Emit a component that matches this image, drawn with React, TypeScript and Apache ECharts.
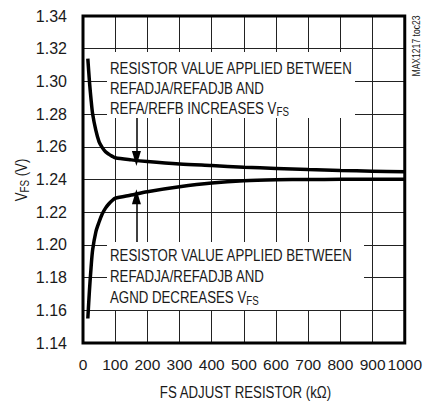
import React, { useEffect, useRef } from "react";
import * as echarts from "echarts";

const xTicks = [0, 100, 200, 300, 400, 500, 600, 700, 800, 900, 1000];
const yTicks = [1.14, 1.16, 1.18, 1.2, 1.22, 1.24, 1.26, 1.28, 1.3, 1.32, 1.34];

const resistorK = [15, 20, 25, 30, 40, 50, 60, 70, 80, 90, 100, 150, 200, 300, 400, 500, 600, 700, 800, 900, 1000];
const vfsIncrease = [1.314, 1.3, 1.289, 1.28, 1.27, 1.263, 1.2595, 1.257, 1.2555, 1.2543, 1.2533, 1.252, 1.251, 1.2495, 1.2485, 1.2475, 1.2468, 1.2461, 1.2455, 1.2451, 1.2447];
const vfsDecrease = [1.155, 1.172, 1.186, 1.197, 1.208, 1.214, 1.219, 1.2225, 1.225, 1.227, 1.2285, 1.2305, 1.2325, 1.2355, 1.2378, 1.2392, 1.2398, 1.24, 1.2401, 1.2401, 1.2401];

const upperText = ["RESISTOR VALUE APPLIED BETWEEN", "REFADJA/REFADJB AND", "REFA/REFB INCREASES "];
const lowerText = ["RESISTOR VALUE APPLIED BETWEEN", "REFADJA/REFADJB AND", "AGND DECREASES "];
const xName = "FS ADJUST RESISTOR (kΩ)";
const arrowUp = { k: 166, from: 1.2776, to: 1.2528 };
const arrowDown = { k: 166, from: 1.2018, to: 1.2295 };

const FONT = "'Liberation Sans', Arial, sans-serif";
const INK = "#1a1a1a";
const SQUEEZE = 0.78;

const rich = {
  m: { fontFamily: FONT, fontSize: 17, fill: INK, color: INK, lineHeight: 20, verticalAlign: "middle" },
  s: { fontFamily: FONT, fontSize: 12.5, fill: INK, color: INK, lineHeight: 12, verticalAlign: "bottom" },
};

function textLines(lines: string[], x: number, y0: number, dy: number) {
  return lines.map((t, i) => {
    const last = i === lines.length - 1;
    return {
      type: "text",
      x,
      y: y0 + i * dy,
      scaleX: SQUEEZE,
      z: 1,
      style: {
        text: last ? `{m|${t}V}{s|FS}` : `{m|${t}}`,
        fontFamily: FONT,
        fontSize: 17,
        fill: INK,
        verticalAlign: "middle",
        rich,
      },
    };
  });
}

export default function App() {
  const ref = useRef<HTMLDivElement>(null);
  useEffect(() => {
    if (!ref.current) return;
    const chart = echarts.init(ref.current, null, { renderer: "svg" });
    const upData = resistorK.map((k, i) => [k, vfsIncrease[i]]);
    const dnData = resistorK.map((k, i) => [k, vfsDecrease[i]]);
    chart.setOption({
      animation: false,
      backgroundColor: "#fff",
      grid: { left: 83, right: 17, top: 16, bottom: 59, show: true, borderColor: "#000", borderWidth: 3, backgroundColor: "transparent", z: 3 },
      xAxis: {
        type: "value",
        min: xTicks[0],
        max: xTicks[xTicks.length - 1],
        interval: 100,
        axisLine: { show: false },
        axisTick: { show: false },
        splitLine: { show: true, lineStyle: { color: "#222", width: 1 } },
        axisLabel: {
          fontFamily: FONT,
          fontSize: 15.5,
          color: INK,
          margin: 13,
          showMaxLabel: true,
          showMinLabel: true,
          hideOverlap: false,
          interval: 0,
          formatter: (v: number) => String(v),
        },
      },
      yAxis: {
        type: "value",
        min: yTicks[0],
        max: yTicks[yTicks.length - 1],
        interval: 0.02,
        axisLine: { show: false },
        axisTick: { show: false },
        splitLine: { show: true, lineStyle: { color: "#222", width: 1 } },
        axisLabel: { fontFamily: FONT, fontSize: 16, color: INK, margin: 16, showMaxLabel: true, showMinLabel: true, formatter: (v: number) => v.toFixed(2) },
      },
      graphic: [
        { type: "rect", z: 1, shape: { x: 107, y: 52, width: 248, height: 66 }, style: { fill: "#fff" } },
        { type: "rect", z: 1, shape: { x: 107, y: 242, width: 257, height: 68 }, style: { fill: "#fff" } },
        ...textLines(upperText, 110, 68, 20),
        ...textLines(lowerText, 110, 255, 21),
        {
          type: "text",
          x: 245.5,
          y: 392,
          scaleX: SQUEEZE,
          style: { text: xName, fontFamily: FONT, fontSize: 17, fill: INK, align: "center", verticalAlign: "middle" },
        },
        {
          type: "text",
          x: 21,
          y: 180,
          rotation: Math.PI / 2,
          scaleX: SQUEEZE,
          style: { text: "{m|V}{s|FS}{m| (V)}", fontFamily: FONT, fontSize: 17, fill: INK, align: "center", verticalAlign: "middle", rich },
        },
        {
          type: "text",
          x: 416,
          y: 46,
          rotation: Math.PI / 2,
          scaleX: SQUEEZE,
          style: { text: "MAX1217 toc23", fontFamily: FONT, fontSize: 11, fill: INK, align: "center", verticalAlign: "middle" },
        },
      ],
      series: [
        {
          type: "line",
          data: upData,
          showSymbol: false,
          smooth: 0.3,
          lineStyle: { color: "#000", width: 3.5 },
          z: 4,
          markLine: {
            silent: true,
            symbol: ["none", "triangle"],
            label: { show: false },
            lineStyle: { color: "#000", width: 1.5, type: "solid" },
            data: [
              [
                { coord: [arrowUp.k, arrowUp.from], symbol: "none" },
                { coord: [arrowUp.k, arrowUp.to], symbol: "triangle", symbolSize: [9, 15] },
              ],
              [
                { coord: [arrowDown.k, arrowDown.from], symbol: "none" },
                { coord: [arrowDown.k, arrowDown.to], symbol: "triangle", symbolSize: [9, 15] },
              ],
            ],
          },
        },
        {
          type: "line",
          data: dnData,
          showSymbol: false,
          smooth: 0.3,
          lineStyle: { color: "#000", width: 3.5 },
          z: 4,
        },
      ],
    });
    return () => chart.dispose();
  }, []);
  return <div ref={ref} style={{ width: 425, height: 402, position: "absolute", left: 0, top: 0 }} />;
}
